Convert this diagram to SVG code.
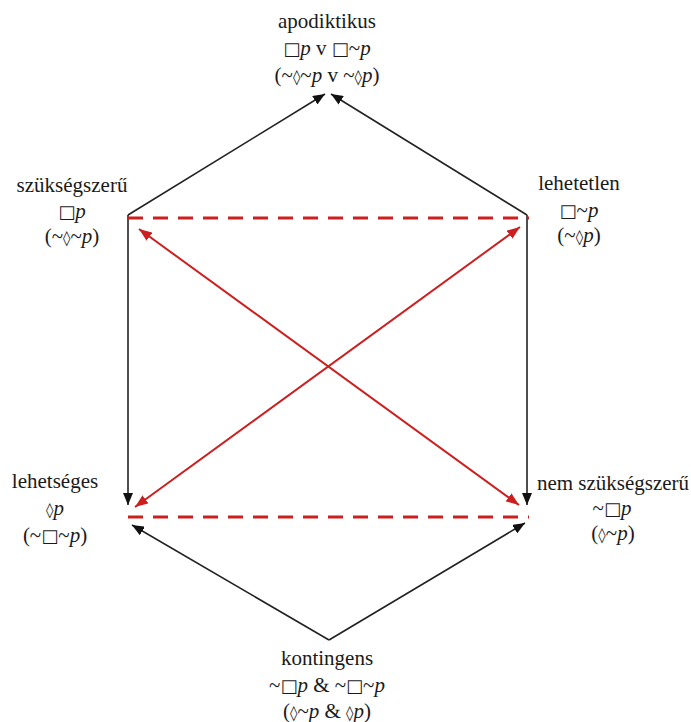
<svg xmlns="http://www.w3.org/2000/svg" width="691" height="722" viewBox="0 0 691 722">
<style>
text{font-family:"Liberation Serif","Times New Roman",serif;font-size:21px;fill:#1a1a1a;text-anchor:middle}
.i{font-style:italic}
.s{font-family:"DejaVu Sans",sans-serif;font-size:18px;fill:#1a1a1a}
.d{font-family:"DejaVu Sans",sans-serif;font-size:15px;font-weight:bold;fill:#1a1a1a}
.blk{stroke:#222;stroke-width:1.6;fill:none}
.red{stroke:#cc1f1f;stroke-width:2;fill:none}
.dash{stroke:#cc1f1f;stroke-width:3.2;fill:none;stroke-dasharray:15 10}
</style>
<defs>
<marker id="ab" markerUnits="userSpaceOnUse" markerWidth="12" markerHeight="10" refX="12" refY="5" orient="auto-start-reverse"><path d="M0,0 L12,5 L0,10 z" fill="#111"/></marker>
<marker id="ar" markerUnits="userSpaceOnUse" markerWidth="13" markerHeight="10" refX="13" refY="5" orient="auto-start-reverse"><path d="M0,0 L13,5 L0,10 z" fill="#cc1f1f"/></marker>
</defs>
<g id="connectors">
<line class="blk" x1="128" y1="215" x2="325" y2="94" marker-end="url(#ab)"/>
<line class="blk" x1="527" y1="215" x2="331" y2="94" marker-end="url(#ab)"/>
<line class="blk" x1="128" y1="215" x2="128" y2="505" marker-end="url(#ab)"/>
<line class="blk" x1="527" y1="215" x2="527" y2="505" marker-end="url(#ab)"/>
<line class="blk" x1="329" y1="640" x2="132" y2="525" marker-end="url(#ab)"/>
<line class="blk" x1="329" y1="640" x2="525" y2="523" marker-end="url(#ab)"/>
<line class="dash" x1="128" y1="218" x2="529" y2="218"/>
<line class="dash" x1="128" y1="517" x2="529" y2="517"/>
<line class="red" x1="139" y1="229" x2="519" y2="505" marker-start="url(#ar)" marker-end="url(#ar)"/>
<line class="red" x1="135" y1="507" x2="520" y2="227" marker-start="url(#ar)" marker-end="url(#ar)"/>
</g>
<g id="apodiktikus">
<text x="327" y="28">apodiktikus</text>
<text x="327" y="55"><tspan class="s">□</tspan><tspan class="i">p</tspan> v <tspan class="s">□</tspan>~<tspan class="i">p</tspan></text>
<text x="327" y="82">(~<tspan class="d">◊</tspan>~<tspan class="i">p</tspan> v ~<tspan class="d">◊</tspan><tspan class="i">p</tspan>)</text>
</g>
<g id="szuksegszeru">
<text x="72" y="192">szükségszerű</text>
<text x="72" y="218"><tspan class="s">□</tspan><tspan class="i">p</tspan></text>
<text x="72" y="243">(~<tspan class="d">◊</tspan>~<tspan class="i">p</tspan>)</text>
</g>
<g id="lehetetlen">
<text x="579" y="190">lehetetlen</text>
<text x="579" y="217"><tspan class="s">□</tspan>~<tspan class="i">p</tspan></text>
<text x="579" y="242">(~<tspan class="d">◊</tspan><tspan class="i">p</tspan>)</text>
</g>
<g id="lehetseges">
<text x="55" y="488">lehetséges</text>
<text x="55" y="515"><tspan class="d">◊</tspan><tspan class="i">p</tspan></text>
<text x="55" y="542">(~<tspan class="s">□</tspan>~<tspan class="i">p</tspan>)</text>
</g>
<g id="nem-szuksegszeru">
<text x="613" y="490">nem szükségszerű</text>
<text x="612" y="515">~<tspan class="s">□</tspan><tspan class="i">p</tspan></text>
<text x="613" y="540">(<tspan class="d">◊</tspan>~<tspan class="i">p</tspan>)</text>
</g>
<g id="kontingens">
<text x="327" y="665">kontingens</text>
<text x="327" y="692">~<tspan class="s">□</tspan><tspan class="i">p</tspan> &amp; ~<tspan class="s">□</tspan>~<tspan class="i">p</tspan></text>
<text x="327" y="718">(<tspan class="d">◊</tspan>~<tspan class="i">p</tspan> &amp; <tspan class="d">◊</tspan><tspan class="i">p</tspan>)</text>
</g>
</svg>
